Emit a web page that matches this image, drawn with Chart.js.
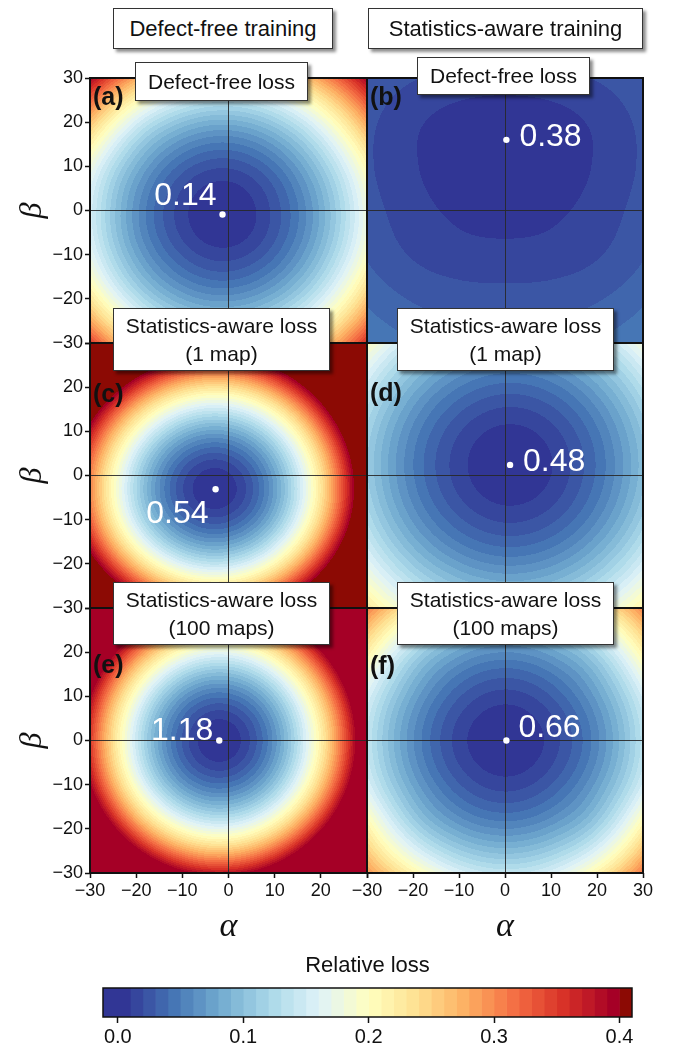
<!DOCTYPE html>
<html>
<head>
<meta charset="utf-8">
<script src="https://cdn.jsdelivr.net/npm/chart.js@4.4.1/dist/chart.umd.min.js"></script>
<style>
html,body{margin:0;padding:0;background:#fff;}
#wrap{position:relative;width:673px;height:1051px;overflow:hidden;font-family:"Liberation Sans",Arial,sans-serif;color:#111;}
#wrap canvas{position:absolute;}
.box{position:absolute;background:#fff;border:1px solid #333;box-shadow:3px 3px 3px rgba(0,0,0,0.45);display:flex;flex-direction:column;align-items:center;justify-content:center;text-align:center;box-sizing:border-box;z-index:5;white-space:nowrap;}
.main{font-size:22px;}
.sub{font-size:21px;line-height:28px;}
</style>
</head>
<body>
<div id="wrap"></div>
<script>
// ---------------- data ----------------
const alphaGrid = [-30, -20, -10, 0, 10, 20, 30];
const betaGrid  = [30, 20, 10, 0, -10, -20, -30];
const tickValues = [-30, -20, -10, 0, 10, 20, 30];
const tickLabels = ['\u221230', '\u221220', '\u221210', '0', '10', '20', '30'];

const columnTitles = ['Defect-free training', 'Statistics-aware training'];
const panelLetters = ['(a)', '(b)', '(c)', '(d)', '(e)', '(f)'];
const panelTitles = [
  ['Defect-free loss'], ['Defect-free loss'],
  ['Statistics-aware loss', '(1 map)'], ['Statistics-aware loss', '(1 map)'],
  ['Statistics-aware loss', '(100 maps)'], ['Statistics-aware loss', '(100 maps)']
];

// relative loss on the (alpha, beta) grid; rows = betaGrid, cols = alphaGrid
const lossA = [
  [0.395, 0.280, 0.215, 0.198, 0.222, 0.290, 0.395],
  [0.265, 0.155, 0.100, 0.085, 0.110, 0.175, 0.285],
  [0.180, 0.088, 0.036, 0.022, 0.046, 0.108, 0.208],
  [0.155, 0.064, 0.014, 0.000, 0.024, 0.083, 0.180],
  [0.170, 0.079, 0.029, 0.015, 0.038, 0.098, 0.196],
  [0.232, 0.133, 0.080, 0.066, 0.090, 0.152, 0.258],
  [0.350, 0.235, 0.172, 0.158, 0.182, 0.250, 0.360]
];
const lossB = [
  [0.030, 0.021, 0.017, 0.016, 0.017, 0.021, 0.030],
  [0.023, 0.012, 0.006, 0.004, 0.006, 0.012, 0.023],
  [0.022, 0.011, 0.005, 0.003, 0.005, 0.011, 0.022],
  [0.025, 0.014, 0.008, 0.006, 0.008, 0.014, 0.025],
  [0.029, 0.019, 0.014, 0.013, 0.014, 0.019, 0.029],
  [0.038, 0.029, 0.025, 0.024, 0.025, 0.029, 0.038],
  [0.050, 0.041, 0.036, 0.035, 0.036, 0.041, 0.050]
];
const lossC = [
  [0.785, 0.603, 0.503, 0.486, 0.555, 0.713, 0.961],
  [0.538, 0.356, 0.256, 0.239, 0.308, 0.466, 0.714],
  [0.379, 0.197, 0.097, 0.080, 0.149, 0.307, 0.555],
  [0.307, 0.125, 0.025, 0.008, 0.077, 0.235, 0.483],
  [0.326, 0.144, 0.044, 0.027, 0.096, 0.254, 0.502],
  [0.440, 0.258, 0.158, 0.141, 0.210, 0.368, 0.616],
  [0.650, 0.468, 0.368, 0.351, 0.420, 0.578, 0.826]
];
const lossD = [
  [0.198, 0.138, 0.102, 0.088, 0.097, 0.129, 0.184],
  [0.146, 0.086, 0.050, 0.036, 0.045, 0.077, 0.132],
  [0.117, 0.057, 0.021, 0.007, 0.016, 0.048, 0.103],
  [0.111, 0.051, 0.015, 0.001, 0.010, 0.042, 0.097],
  [0.128, 0.068, 0.032, 0.018, 0.027, 0.059, 0.114],
  [0.168, 0.108, 0.072, 0.058, 0.067, 0.099, 0.154],
  [0.231, 0.171, 0.135, 0.121, 0.130, 0.162, 0.217]
];
const lossE = [
  [0.731, 0.524, 0.407, 0.380, 0.443, 0.596, 0.839],
  [0.521, 0.314, 0.197, 0.170, 0.233, 0.386, 0.629],
  [0.395, 0.188, 0.071, 0.044, 0.107, 0.260, 0.503],
  [0.353, 0.146, 0.029, 0.002, 0.065, 0.218, 0.461],
  [0.395, 0.188, 0.071, 0.044, 0.107, 0.260, 0.503],
  [0.521, 0.314, 0.197, 0.170, 0.233, 0.386, 0.629],
  [0.731, 0.524, 0.407, 0.380, 0.443, 0.596, 0.839]
];
const lossF = [
  [0.310, 0.220, 0.158, 0.138, 0.156, 0.215, 0.305],
  [0.220, 0.125, 0.076, 0.060, 0.075, 0.120, 0.215],
  [0.158, 0.078, 0.031, 0.015, 0.030, 0.074, 0.153],
  [0.140, 0.061, 0.015, 0.000, 0.014, 0.057, 0.135],
  [0.158, 0.078, 0.031, 0.015, 0.030, 0.074, 0.153],
  [0.220, 0.125, 0.076, 0.060, 0.075, 0.120, 0.220],
  [0.295, 0.215, 0.158, 0.138, 0.156, 0.215, 0.315]
];
const lossCap = [null, null, null, null, 0.399, null]; // panel (e) saturates in the top band

const minAlpha = [-1.3, 0.3, -2.8, 1.1, -2.0, 0.3];
const minBeta  = [-0.9, 16.0, -3.1, 2.4, 0.0, 0.0];
const minLabels = ['0.14', '0.38', '0.54', '0.48', '1.18', '0.66'];

const contourLevels = [0.00, 0.01, 0.02, 0.03, 0.04, 0.05, 0.06, 0.07, 0.08, 0.09,
  0.10, 0.11, 0.12, 0.13, 0.14, 0.15, 0.16, 0.17, 0.18, 0.19,
  0.20, 0.21, 0.22, 0.23, 0.24, 0.25, 0.26, 0.27, 0.28, 0.29,
  0.30, 0.31, 0.32, 0.33, 0.34, 0.35, 0.36, 0.37, 0.38, 0.39, 0.40];
const colorbarRange = [-0.0118, 0.41];
const colorbarTicks = [0.0, 0.1, 0.2, 0.3, 0.4];
const colorbarTickLabels = ['0.0', '0.1', '0.2', '0.3', '0.4'];
const colorbarTitle = 'Relative loss';

// ---------------- style ----------------
const FONT = '"Liberation Sans", Arial, sans-serif';
const SERIF = '"Liberation Serif", "DejaVu Serif", serif';
const cmapStops = ['#313695','#4575b4','#74add1','#abd9e9','#e0f3f8','#ffffbf','#fee090','#fdae61','#f46d43','#d73027','#a50026'];
const overColor = '#8c0a04';
const lineCol = 'rgba(40,40,40,0.9)';

function hexRGB(h){ return [parseInt(h.slice(1,3),16), parseInt(h.slice(3,5),16), parseInt(h.slice(5,7),16)]; }
const stopRGB = cmapStops.map(hexRGB);
function cmap(t){
  t = Math.max(0, Math.min(1, t));
  const s = t * (stopRGB.length - 1);
  const i = Math.min(stopRGB.length - 2, Math.floor(s));
  const f = s - i;
  return stopRGB[i].map((c, k) => Math.round(c + (stopRGB[i+1][k] - c) * f));
}
const nBands = contourLevels.length - 1;
const bandRGB = [];
for (let k = 0; k < nBands; k++) bandRGB.push(cmap(k / (nBands - 1)));
const overRGB = hexRGB(overColor);
const rgbStr = c => 'rgb(' + c[0] + ',' + c[1] + ',' + c[2] + ')';

function colorFor(v){
  if (v >= contourLevels[nBands]) return overRGB;
  let k = 0;
  while (k < nBands - 1 && v >= contourLevels[k + 1]) k++;
  return bandRGB[k];
}

// grid lookup with quadratic extrapolation beyond the edges
function gv(G, i, j){
  const n = G.length, m = G[0].length;
  if (i < 0) return 3*gv(G,0,j) - 3*gv(G,1,j) + gv(G,2,j);
  if (i >= n) return 3*gv(G,n-1,j) - 3*gv(G,n-2,j) + gv(G,n-3,j);
  if (j < 0) return 3*G[i][0] - 3*G[i][1] + G[i][2];
  if (j >= m) return 3*G[i][m-1] - 3*G[i][m-2] + G[i][m-3];
  return G[i][j];
}
function cr(p0,p1,p2,p3,t){ return p1 + 0.5*t*(p2 - p0 + t*(2*p0 - 5*p1 + 4*p2 - p3 + t*(3*(p1 - p2) + p3 - p0))); }
function fieldAt(G, gx, gy){
  const n = G.length, m = G[0].length;
  let j = Math.floor(gx), i = Math.floor(gy);
  j = Math.max(0, Math.min(m - 2, j)); i = Math.max(0, Math.min(n - 2, i));
  const tx = gx - j, ty = gy - i;
  const r = [];
  for (let d = -1; d <= 2; d++) r.push(cr(gv(G,i+d,j-1), gv(G,i+d,j), gv(G,i+d,j+1), gv(G,i+d,j+2), tx));
  return cr(r[0], r[1], r[2], r[3], ty);
}

const fieldPlugin = {
  id: 'field',
  beforeDraw(chart){
    const o = chart.options.plugins.field;
    if (!o || !o.grid) return;
    const {ctx, chartArea: a, scales: {x, y}} = chart;
    const L = Math.round(a.left), T = Math.round(a.top);
    const w = Math.round(a.right) - L, h = Math.round(a.bottom) - T;
    const img = ctx.createImageData(w, h);
    const dA = alphaGrid[1] - alphaGrid[0], dB = betaGrid[0] - betaGrid[1];
    for (let py = 0; py < h; py++) {
      const bv = y.getValueForPixel(T + py + 0.5);
      const gy = (betaGrid[0] - bv) / dB;
      for (let px = 0; px < w; px++) {
        const av = x.getValueForPixel(L + px + 0.5);
        const gx = (av - alphaGrid[0]) / dA;
        let v = fieldAt(o.grid, gx, gy);
        if (o.cap != null) v = Math.min(v, o.cap);
        const c = colorFor(v);
        const p = (py * w + px) * 4;
        img.data[p] = c[0]; img.data[p+1] = c[1]; img.data[p+2] = c[2]; img.data[p+3] = 255;
      }
    }
    ctx.putImageData(img, L, T);
  },
  afterDraw(chart){
    const o = chart.options.plugins.field;
    if (!o || !o.grid) return;
    const {ctx, chartArea: a, scales: {x, y}} = chart;
    ctx.save();
    ctx.strokeStyle = '#111'; ctx.lineWidth = 2;
    ctx.strokeRect(a.left, a.top, a.right - a.left, a.bottom - a.top);
    const px = x.getPixelForValue(o.minA), py = y.getPixelForValue(o.minB);
    ctx.fillStyle = '#fff'; ctx.font = '32px ' + FONT;
    ctx.textAlign = o.labelAlign; ctx.textBaseline = 'alphabetic';
    ctx.fillText(o.minLabel, px + o.labelDx, py + o.labelDy);
    ctx.fillStyle = '#111'; ctx.font = 'bold 25px ' + FONT; ctx.textAlign = 'left';
    ctx.fillText(o.letter, a.left + 3, a.top + o.letterDy);
    ctx.restore();
  }
};

const wrap = document.getElementById('wrap');
const colL = [90, 367], colR = [367, 643];
const rowT = [78, 343, 608], rowB = [343, 608, 873];
const grids = [lossA, lossB, lossC, lossD, lossE, lossF];
const labelStyle = [
  {align:'right', dx:-6, dy:-9},
  {align:'left',  dx:13, dy:6},
  {align:'right', dx:-7, dy:34},
  {align:'left',  dx:13, dy:6},
  {align:'right', dx:-6, dy:-1},
  {align:'left',  dx:12, dy:-4}
];
const letterDy = [27, 27, 59, 58, 65, 66];

function makePanel(idx){
  const col = idx % 2, row = Math.floor(idx / 2);
  const L = colL[col], R = colR[col], T = rowT[row], B = rowB[row];
  const showY = col === 0, showX = row === 2;
  const ml = showY ? L : 22, mt = 14, mr = col === 1 ? 673 - R : 6, mb = showX ? 78 : 6;
  const cv = document.createElement('canvas');
  cv.width = R - L + ml + mr; cv.height = B - T + mt + mb;
  cv.style.left = (L - ml) + 'px'; cv.style.top = (T - mt) + 'px';
  cv.style.width = cv.width + 'px'; cv.style.height = cv.height + 'px';
  wrap.appendChild(cv);
  const skipTopY = row > 0, skipRightX = col === 0;
  new Chart(cv, {
    type: 'scatter',
    data: { datasets: [{ data: [{x: minAlpha[idx], y: minBeta[idx]}], pointRadius: 3.2, pointBackgroundColor: '#fff', pointBorderWidth: 0 }] },
    options: {
      responsive: false, animation: false, devicePixelRatio: 1, events: [],
      layout: { autoPadding: false, padding: { left: showY ? 0 : ml, right: mr, top: mt, bottom: showX ? 0 : mb } },
      plugins: {
        legend: {display: false}, tooltip: {enabled: false},
        field: { grid: grids[idx], cap: lossCap[idx], minA: minAlpha[idx], minB: minBeta[idx], minLabel: minLabels[idx],
                 labelAlign: labelStyle[idx].align, labelDx: labelStyle[idx].dx, labelDy: labelStyle[idx].dy,
                 letter: panelLetters[idx], letterDy: letterDy[idx] }
      },
      scales: {
        x: {
          type: 'linear', min: -30, max: 30, position: 'bottom',
          afterBuildTicks: s => { s.ticks = tickValues.map(v => ({value: v})); },
          afterFit: s => { s.height = showX ? mb : 0; s.paddingLeft = 0; s.paddingRight = 0; },
          ticks: { display: showX, autoSkip: false, maxRotation: 0, padding: 2, color: '#111', font: {family: FONT, size: 18},
                   callback: v => (skipRightX && v === 30) ? '' : tickLabels[tickValues.indexOf(v)] },
          grid: { color: c => (c.tick && c.tick.value === 0) ? lineCol : 'rgba(0,0,0,0)', lineWidth: 1,
                  drawTicks: showX, tickLength: 5, tickColor: '#111', tickWidth: 1.5 },
          border: { display: false },
          title: { display: showX, text: '\u03b1', color: '#111', font: {family: SERIF, style: 'italic', size: 34}, padding: {top: 0, bottom: 4} }
        },
        y: {
          type: 'linear', min: -30, max: 30, position: 'left',
          afterBuildTicks: s => { s.ticks = tickValues.map(v => ({value: v})); },
          afterFit: s => { s.width = showY ? ml : 0; s.paddingTop = 0; s.paddingBottom = 0; },
          ticks: { display: showY, autoSkip: false, padding: 2, color: '#111', font: {family: FONT, size: 18},
                   callback: v => (skipTopY && v === 30) ? '' : tickLabels[tickValues.indexOf(v)] },
          grid: { color: c => (c.tick && c.tick.value === 0) ? lineCol : 'rgba(0,0,0,0)', lineWidth: 1,
                  drawTicks: showY, tickLength: 5, tickColor: '#111', tickWidth: 1.5 },
          border: { display: false },
          title: { display: showY, text: '\u03b2', color: '#111', font: {family: SERIF, style: 'italic', size: 32}, padding: {top: 13, bottom: 0} }
        }
      }
    },
    plugins: [fieldPlugin]
  });
}
for (let i = 0; i < 6; i++) makePanel(i);

// ---------------- colorbar ----------------
(function(){
  const cv = document.createElement('canvas');
  cv.width = 673; cv.height = 106;
  cv.style.left = '0px'; cv.style.top = '945px'; cv.style.width = '673px'; cv.style.height = '106px';
  wrap.appendChild(cv);
  const datasets = [];
  for (let k = 0; k < nBands; k++) {
    const lo = k === 0 ? colorbarRange[0] : contourLevels[k];
    datasets.push({ data: [[lo, contourLevels[k + 1]]], backgroundColor: rgbStr(bandRGB[k]), borderWidth: 0,
                    grouped: false, barPercentage: 1, categoryPercentage: 1 });
  }
  datasets.push({ data: [[contourLevels[nBands], colorbarRange[1]]], backgroundColor: overColor, borderWidth: 0,
                  grouped: false, barPercentage: 1, categoryPercentage: 1 });
  const framePlugin = { id: 'cbframe', afterDraw(chart){ const {ctx, chartArea: a} = chart; ctx.save(); ctx.strokeStyle = '#111'; ctx.lineWidth = 1.5; ctx.strokeRect(a.left, a.top, a.right - a.left, a.bottom - a.top); ctx.restore(); } };
  new Chart(cv, {
    type: 'bar',
    data: { labels: ['loss'], datasets },
    options: {
      indexAxis: 'y', responsive: false, animation: false, devicePixelRatio: 1, events: [],
      layout: { autoPadding: false, padding: { left: 103, right: 41, top: 0, bottom: 0 } },
      plugins: { legend: {display: false}, tooltip: {enabled: false} },
      scales: {
        x: {
          type: 'linear', position: 'bottom', min: colorbarRange[0], max: colorbarRange[1],
          afterBuildTicks: s => { s.ticks = colorbarTicks.map(v => ({value: v})); },
          afterFit: s => { s.height = 34; s.paddingLeft = 0; s.paddingRight = 0; },
          ticks: { autoSkip: false, maxRotation: 0, padding: 2, color: '#111', font: {family: FONT, size: 20},
                   callback: (v, i) => colorbarTickLabels[i] },
          grid: { drawOnChartArea: false, drawTicks: true, tickLength: 6, tickColor: '#111', tickWidth: 1.5 },
          border: { display: false }
        },
        x2: {
          type: 'linear', position: 'top', axis: 'x', min: colorbarRange[0], max: colorbarRange[1],
          afterFit: s => { s.height = 43; s.paddingLeft = 0; s.paddingRight = 0; },
          ticks: { display: false }, grid: { display: false, drawTicks: false }, border: { display: false },
          title: { display: true, text: colorbarTitle, color: '#111', font: {family: FONT, size: 22}, padding: {top: 8, bottom: 0} }
        },
        y: { display: false }
      }
    },
    plugins: [framePlugin]
  });
})();

// ---------------- title boxes ----------------
function addBox(lines, l, t, w, h, cls){
  const d = document.createElement('div');
  d.className = 'box ' + cls;
  d.style.left = l + 'px'; d.style.top = t + 'px'; d.style.width = w + 'px'; d.style.height = h + 'px';
  lines.forEach(s => { const sp = document.createElement('div'); sp.textContent = s; d.appendChild(sp); });
  wrap.appendChild(d);
}
addBox([columnTitles[0]], 113, 8, 220, 41, 'main');
addBox([columnTitles[1]], 368, 8, 275, 41, 'main');
const boxRects = [[135,62,173,39],[417,57,173,38],[113,308,217,63],[397,308,217,63],[113,582,217,63],[397,582,217,63]];
panelTitles.forEach((t, i) => addBox(t, boxRects[i][0], boxRects[i][1], boxRects[i][2], boxRects[i][3], 'sub'));
</script>
</body>
</html>
